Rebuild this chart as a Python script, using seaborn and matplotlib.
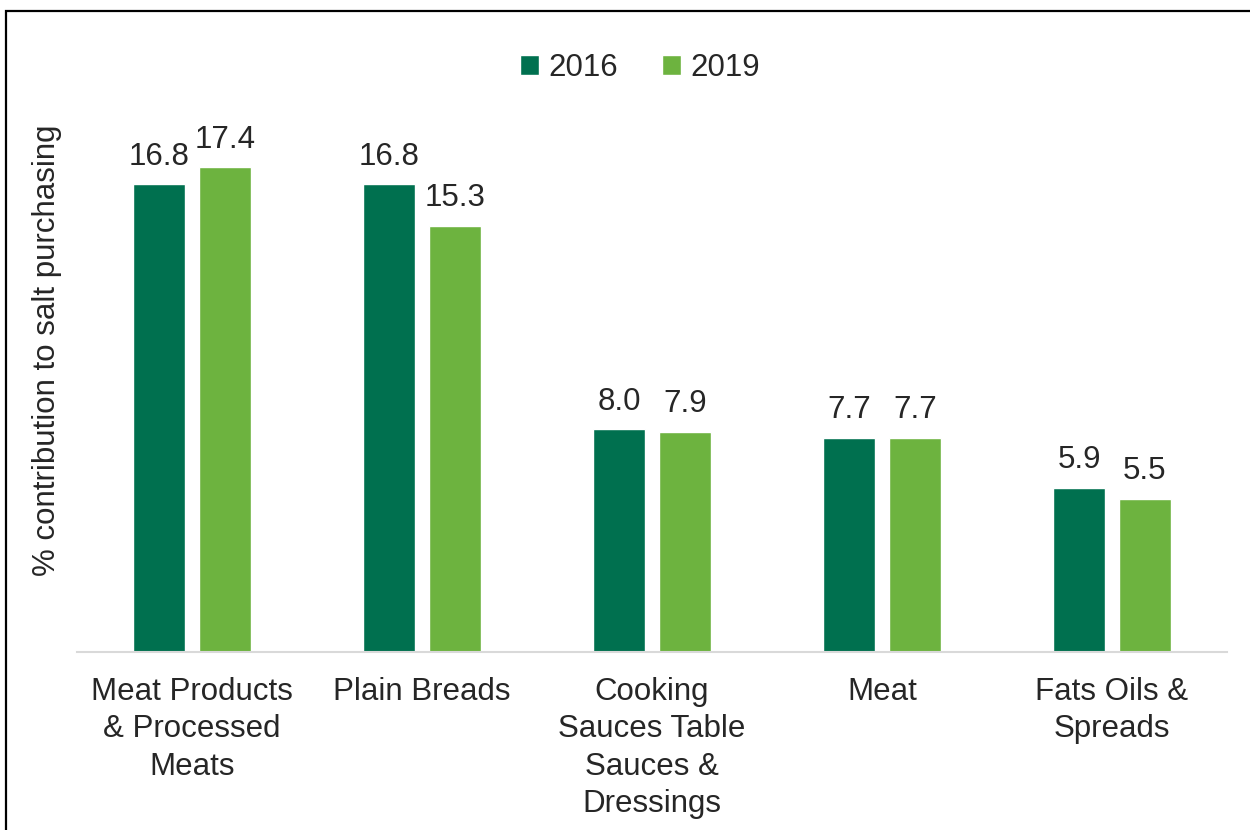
import pandas as pd
import seaborn as sns
import matplotlib.pyplot as plt
from matplotlib.patches import Rectangle

categories = ['Meat Products\n& Processed\nMeats', 'Plain Breads',
              'Cooking\nSauces Table\nSauces &\nDressings', 'Meat',
              'Fats Oils &\nSpreads']
years = ['2016', '2019']
vals_2016 = [16.8, 16.8, 8.0, 7.7, 5.9]
vals_2019 = [17.4, 15.3, 7.9, 7.7, 5.5]
colors = ['#00704F', '#6DB33F']

df = pd.DataFrame({
    'categoria': categories * 2,
    'ano': [years[0]] * 5 + [years[1]] * 5,
    'valor': vals_2016 + vals_2019,
})

sns.set_style('white')
plt.rcParams['font.family'] = ['Liberation Sans', 'DejaVu Sans']
fs = 22.5

fig = plt.figure(figsize=(12.5, 8.3), dpi=100)
ax = fig.add_axes([0.0616, 0.2145, 0.92, 0.671])

sns.barplot(data=df, x='categoria', y='valor', hue='ano', palette=colors,
            width=0.57, gap=0.2, ax=ax, saturation=1)

for c in ax.containers:
    ax.bar_label(c, fmt='%.1f', padding=9, fontsize=fs)

ax.set_ylim(0, 20)
ax.set_yticks([])
ax.set_xlabel('')
ax.set_ylabel('')
ax.tick_params(axis='x', labelsize=fs, length=0, pad=18)
for lbl in ax.get_xticklabels():
    lbl.set_linespacing(1.32)
for s in ['top', 'right', 'left']:
    ax.spines[s].set_visible(False)
ax.spines['bottom'].set_color('#D9D9D9')
ax.spines['bottom'].set_linewidth(1.5)

fig.text(0.038, 1 - 350 / 830, '% contribution to salt purchasing', rotation=90,
         fontsize=fs, ha='center', va='center')

ax.legend(loc='center', ncol=2, frameon=False,
          fontsize=fs, handlelength=0.6, handleheight=0.6,
          handletextpad=0.3, columnspacing=1.4)
leg = ax.get_legend()
leg.set_bbox_to_anchor((0.512, 1 - 68 / 830), transform=fig.transFigure)

fig.patches.append(Rectangle((6 / 1250, -0.01), 1.0, 1 - 11 / 830 + 0.01,
                             transform=fig.transFigure, fill=False,
                             edgecolor='black', linewidth=1.6))

plt.savefig('out.png', dpi=100)
